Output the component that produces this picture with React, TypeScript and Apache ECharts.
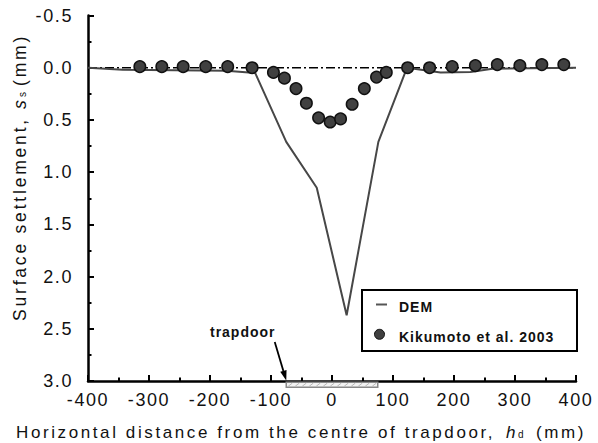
import React, { useEffect, useRef } from "react";
import * as echarts from "echarts";

// ---- data ----
const xTickMin = -400;
const xTickMax = 400;
const xTickStep = 100;
const yTickMin = -0.5;
const yTickMax = 3.0;
const yTickStep = 0.5;

const seriesNames = ["DEM", "Kikumoto et al. 2003"];

const demX = [-400, -343, -173, -126, -75, -25, 24, 76, 123, 178, 227, 263, 400];
const demY = [0.0, 0.02, 0.03, 0.05, 0.71, 1.15, 2.37, 0.71, 0.0, 0.045, 0.04, 0.01, 0.0];

const kikX = [-315, -279, -244, -207, -171, -131, -96, -78, -59, -42, -22, -3, 14, 33, 53, 73, 89, 124, 160, 197, 235, 271, 308, 344, 380];
const kikY = [-0.01, -0.01, -0.01, -0.01, -0.01, 0.0, 0.045, 0.1, 0.2, 0.34, 0.48, 0.52, 0.49, 0.35, 0.2, 0.09, 0.045, 0.0, 0.0, -0.01, -0.02, -0.03, -0.02, -0.03, -0.03];

const zeroLineX = [-400, 400];
const zeroLineY = [0, 0];

const trapdoorEdges = [-75, 75];
const trapdoorDepth = 3.0;

const FONT = '"Liberation Sans", Arial, sans-serif';

export default function App() {
  const ref = useRef<HTMLDivElement>(null);

  useEffect(() => {
    if (!ref.current) return;
    const chart = echarts.init(ref.current, undefined, { renderer: "svg" });

    const axisLine = { show: true, onZero: false, lineStyle: { color: "#000", width: 2.5 } };
    const axisTick = { show: true, inside: true, length: 6, lineStyle: { color: "#000", width: 2 } };
    const minorTick = { show: true, splitNumber: 2, length: 3.5, lineStyle: { color: "#000", width: 2 } };

    const trapdoorRender = (params: any, api: any) => {
      const a = api.coord([api.value(0), api.value(2)]);
      const b = api.coord([api.value(1), api.value(2)]);
      const x0 = a[0];
      const x1 = b[0];
      const y0 = a[1] + 1.2;
      const h = 5;
      const hatch: any[] = [];
      for (let hx = x0 + 5; hx < x1 - 1; hx += 7) {
        hatch.push({
          type: "line",
          shape: { x1: hx - 3, y1: y0 + h - 1, x2: hx + 1, y2: y0 + 1 },
          style: { stroke: "#b8b8b8", lineWidth: 1 },
        });
      }
      const tipX = x0;
      const tipY = a[1] - 0.5;
      const sx = x0 - 11.5;
      const sy = a[1] - 39;
      const dx = tipX - sx;
      const dy = tipY - sy;
      const len = Math.sqrt(dx * dx + dy * dy);
      const ux = dx / len;
      const uy = dy / len;
      const bx = tipX - ux * 10;
      const by = tipY - uy * 10;
      const px = -uy * 3.3;
      const py = ux * 3.3;
      return {
        type: "group",
        children: [
          {
            type: "rect",
            shape: { x: x0, y: y0, width: x1 - x0, height: h },
            style: { fill: "#f3f3f3", stroke: "#8a8a8a", lineWidth: 1.5 },
          },
          ...hatch,
          {
            type: "line",
            shape: { x1: sx, y1: sy, x2: bx, y2: by },
            style: { stroke: "#000", lineWidth: 1.8 },
          },
          {
            type: "polygon",
            shape: { points: [[tipX, tipY], [bx + px, by + py], [bx - px, by - py]] },
            style: { fill: "#000" },
          },
          {
            type: "text",
            x: x0 - 43.5,
            y: a[1] - 49.5,
            style: {
              text: "trapdoor",
              font: `bold 14px ${FONT}`,
              fill: "#111",
              align: "center",
              verticalAlign: "middle",
              textAlign: "center",
              textVerticalAlign: "middle",
            },
          },
        ],
      };
    };

    const textStyle = (text: string, font: string, align = "left") => ({
      text,
      font,
      fill: "#111",
      align,
      verticalAlign: "middle",
      textAlign: align,
      textVerticalAlign: "middle",
    });

    chart.setOption({
      animation: false,
      backgroundColor: "#fff",
      grid: { left: 88, right: 22, top: 15.5, bottom: 62, containLabel: false },
      xAxis: {
        type: "value",
        min: xTickMin,
        max: xTickMax,
        interval: xTickStep,
        axisLine,
        axisTick,
        minorTick,
        splitLine: { show: false },
        axisLabel: { margin: 10, fontSize: 18, fontFamily: FONT, color: "#111" },
      },
      yAxis: {
        type: "value",
        inverse: true,
        min: yTickMin,
        max: yTickMax,
        interval: yTickStep,
        axisLine,
        axisTick,
        minorTick,
        splitLine: { show: false },
        axisLabel: {
          margin: 15,
          fontSize: 18,
          fontFamily: FONT,
          color: "#111",
          formatter: (v: number) => v.toFixed(1),
        },
      },
      series: [
        {
          name: "zero",
          type: "line",
          data: zeroLineX.map((x, i) => [x, zeroLineY[i]]),
          symbol: "none",
          silent: true,
          z: 2,
          lineStyle: { color: "#000", width: 1.5, type: [9, 3, 2, 3] },
        },
        {
          name: seriesNames[0],
          type: "line",
          data: demX.map((x, i) => [x, demY[i]]),
          symbol: "none",
          z: 3,
          lineStyle: { color: "#474747", width: 2 },
        },
        {
          name: seriesNames[1],
          type: "scatter",
          data: kikX.map((x, i) => [x, kikY[i]]),
          symbol: "circle",
          symbolSize: 11.5,
          z: 4,
          itemStyle: { color: "#404040", borderColor: "#111", borderWidth: 1.5, opacity: 1 },
        },
        {
          name: "trapdoor",
          type: "custom",
          clip: false,
          silent: true,
          z: 1,
          encode: { x: [0, 1], y: 2 },
          data: [[trapdoorEdges[0], trapdoorEdges[1], trapdoorDepth]],
          renderItem: trapdoorRender,
        },
      ],
      graphic: [
        {
          type: "group",
          x: 362,
          y: 290,
          children: [
            {
              type: "rect",
              shape: { x: 0, y: 0, width: 215, height: 61 },
              style: { fill: "#fff", stroke: "#000", lineWidth: 2 },
            },
            {
              type: "line",
              shape: { x1: 14, y1: 14.5, x2: 25, y2: 14.5 },
              style: { stroke: "#555", lineWidth: 2 },
            },
            { type: "text", x: 37, y: 16.5, style: textStyle(seriesNames[0], `bold 14px ${FONT}`) },
            {
              type: "circle",
              shape: { cx: 17.5, cy: 44.3, r: 5 },
              style: { fill: "#404040", stroke: "#111", lineWidth: 1 },
            },
            { type: "text", x: 37, y: 47, style: textStyle(seriesNames[1], `bold 14px ${FONT}`) },
          ],
        },
        // x axis title
        { type: "text", x: 16, y: 432, style: textStyle("Horizontal distance from the centre of trapdoor,", `17px ${FONT}`) },
        { type: "text", x: 506, y: 432, style: textStyle("h", `italic 17px ${FONT}`) },
        { type: "text", x: 518, y: 434.5, style: textStyle("d", `10px ${FONT}`) },
        { type: "text", x: 536, y: 432, style: textStyle("(mm)", `17px ${FONT}`) },
        // y axis title (rotated)
        {
          type: "group",
          x: 20,
          y: 175,
          rotation: Math.PI / 2,
          children: [
            { type: "text", x: -146, y: 0, style: textStyle("Surface settlement,", `17.5px ${FONT}`) },
            { type: "text", x: 66, y: 0, style: textStyle("s", `italic 17.5px ${FONT}`) },
            { type: "text", x: 78, y: 2.5, style: textStyle("s", `10px ${FONT}`) },
            { type: "text", x: 89, y: 0, style: textStyle("(mm)", `17.5px ${FONT}`) },
          ],
        },
      ],
    });

    return () => {
      chart.dispose();
    };
  }, []);

  return (
    <>
      <style>{`
        body { margin: 0; }
        #chart text[style*="18px"] { letter-spacing: 1.6px; }
        #chart text[style*="17px"] { letter-spacing: 2.6px; }
        #chart text[style*="17.5px"] { letter-spacing: 2.8px; }
        #chart text[style*="14px"] { letter-spacing: 1px; }
      `}</style>
      <div id="chart" ref={ref} style={{ width: 598, height: 443 }} />
    </>
  );
}
